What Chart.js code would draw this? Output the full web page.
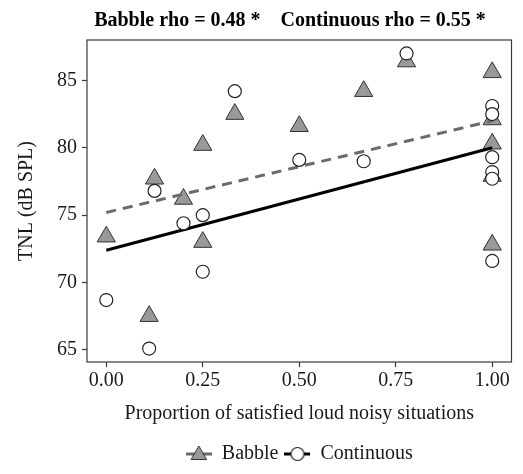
<!DOCTYPE html>
<html>
<head>
<meta charset="utf-8">
<script src="https://cdn.jsdelivr.net/npm/chart.js@4.4.0/dist/chart.umd.min.js"></script>
<style>
html, body { margin: 0; padding: 0; background: #fff; }
</style>
</head>
<body>
<canvas id="tnlChart" width="523" height="474"></canvas>
<script>
// Babble noise (grey triangles)
var babbleX = [0, 0.111, 0.125, 0.2, 0.25, 0.25, 0.333, 0.5, 0.667, 0.778, 1, 1, 1, 1, 1];
var babbleY = [73.4, 67.5, 77.7, 76.2, 80.2, 73.0, 82.5, 81.6, 84.2, 86.4, 85.6, 82.1, 80.3, 77.9, 72.8];
// Continuous noise (open circles)
var contX = [0, 0.111, 0.125, 0.2, 0.25, 0.25, 0.333, 0.5, 0.667, 0.778, 1, 1, 1, 1, 1, 1];
var contY = [68.7, 65.1, 76.8, 74.4, 75.0, 70.8, 84.2, 79.1, 79.0, 87.0, 83.1, 82.5, 79.3, 78.2, 77.7, 71.6];
// fitted lines, ends at x = 0 and x = 1
var fitX = [0, 1];
var babbleFit = [75.2, 82.0];
var contFit = [72.4, 80.0];

var xTicks = [0, 0.25, 0.5, 0.75, 1];
var yTicks = [65, 70, 75, 80, 85];
var seriesNames = ['Babble', 'Continuous'];
var titleText = 'Babble rho = 0.48 *    Continuous rho = 0.55 *';

var serif = '"Liberation Serif", "Times New Roman", serif';
var textColor = '#1a1a1a';
var frameColor = '#3a3a3a';

function toPoints(xs, ys) {
    return xs.map(function(x, i) { return { x: x, y: ys[i] }; });
}

// small legend keys: line + marker
function makeKey(kind) {
    var c = document.createElement('canvas');
    c.width = 26;
    c.height = 22;
    var g = c.getContext('2d');
    g.lineWidth = 3;
    g.strokeStyle = kind == 'babble' ? '#6b6b6b' : '#000';
    g.beginPath();
    g.moveTo(0, 11);
    g.lineTo(26, 11);
    g.stroke();
    g.lineWidth = 1;
    if (kind == 'babble') {
        var r = 9;
        g.beginPath();
        g.moveTo(13, 12 - r);
        g.lineTo(13 + r * 0.866, 12 + r / 2);
        g.lineTo(13 - r * 0.866, 12 + r / 2);
        g.closePath();
        g.fillStyle = '#999';
        g.fill();
        g.strokeStyle = '#333';
        g.stroke();
    } else {
        g.beginPath();
        g.arc(13, 11, 6.5, 0, Math.PI * 2);
        g.fillStyle = '#fff';
        g.fill();
        g.lineWidth = 1.2;
        g.strokeStyle = '#222';
        g.stroke();
    }
    return c;
}
var legendKeys = [makeKey('babble'), makeKey('continuous')];

var framePlugin = {
    id: 'frame',
    afterDatasetsDraw: function(chart) {
        var a = chart.chartArea, ctx = chart.ctx;
        ctx.save();
        ctx.strokeStyle = frameColor;
        ctx.lineWidth = 1.2;
        ctx.strokeRect(a.left, a.top, a.right - a.left, a.bottom - a.top);
        ctx.restore();
    },
    afterDraw: function(chart) {
        var ctx = chart.ctx;
        ctx.save();
        ctx.font = 'bold 20px ' + serif;
        ctx.fillStyle = '#000';
        ctx.textAlign = 'center';
        ctx.textBaseline = 'middle';
        ctx.fillText(titleText, 290, 21);
        ctx.restore();
    }
};

new Chart(document.getElementById('tnlChart'), {
    type: 'scatter',
    data: {
        datasets: [
            {
                label: seriesNames[0],
                data: toPoints(babbleX, babbleY),
                pointStyle: 'triangle',
                pointRadius: 10.5,
                backgroundColor: '#999',
                borderColor: '#333',
                borderWidth: 1,
                order: 3
            },
            {
                label: seriesNames[1],
                data: toPoints(contX, contY),
                pointStyle: 'circle',
                pointRadius: 6.5,
                backgroundColor: '#fff',
                borderColor: '#222',
                borderWidth: 1.2,
                order: 0
            },
            {
                label: seriesNames[0] + ' fit',
                data: toPoints(fitX, babbleFit),
                showLine: true,
                pointRadius: 0,
                borderColor: '#6b6b6b',
                borderWidth: 3,
                borderDash: [10, 7],
                order: 1
            },
            {
                label: seriesNames[1] + ' fit',
                data: toPoints(fitX, contFit),
                showLine: true,
                pointRadius: 0,
                borderColor: '#000',
                borderWidth: 3,
                order: 1
            }
        ]
    },
    options: {
        responsive: false,
        animation: false,
        layout: { padding: { top: 40, right: 5, left: 0, bottom: 0 } },
        plugins: {
            tooltip: { enabled: false },
            title: { display: false },
            legend: {
                position: 'bottom',
                fullSize: false,
                labels: {
                    usePointStyle: true,
                    pointStyleWidth: 26,
                    boxHeight: 20,
                    padding: 6,
                    color: textColor,
                    font: { family: serif, size: 20 },
                    generateLabels: function(chart) {
                        return seriesNames.map(function(name, i) {
                            return {
                                text: name,
                                pointStyle: legendKeys[i],
                                fontColor: textColor,
                                hidden: false,
                                lineWidth: 0,
                                datasetIndex: i
                            };
                        });
                    }
                },
                onClick: function() {}
            }
        },
        scales: {
            x: {
                type: 'linear',
                min: -0.05,
                max: 1.05,
                afterBuildTicks: function(s) { s.ticks = xTicks.map(function(v) { return { value: v }; }); },
                afterFit: function(s) { s.height = 76; },
                ticks: {
                    color: textColor,
                    padding: 2,
                    maxRotation: 0,
                    font: { family: serif, size: 20 },
                    callback: function(v) { return Number(v).toFixed(2); }
                },
                grid: { drawOnChartArea: false, drawTicks: true, tickLength: 5, color: frameColor, tickWidth: 1.2 },
                border: { display: false },
                title: {
                    display: true,
                    text: 'Proportion of satisfied loud noisy situations',
                    color: textColor,
                    font: { family: serif, size: 20 },
                    padding: { top: 0, bottom: 12 }
                }
            },
            y: {
                type: 'linear',
                min: 64.1,
                max: 88.0,
                afterBuildTicks: function(s) { s.ticks = yTicks.map(function(v) { return { value: v }; }); },
                afterFit: function(s) { s.width = 87; },
                ticks: {
                    color: textColor,
                    padding: 5,
                    font: { family: serif, size: 20 }
                },
                grid: { drawOnChartArea: false, drawTicks: true, tickLength: 5, color: frameColor, tickWidth: 1.2 },
                border: { display: false },
                title: {
                    display: true,
                    text: 'TNL (dB SPL)',
                    color: textColor,
                    font: { family: serif, size: 20 },
                    padding: { top: 15, bottom: 0 }
                }
            }
        }
    },
    plugins: [framePlugin]
});
</script>
</body>
</html>
